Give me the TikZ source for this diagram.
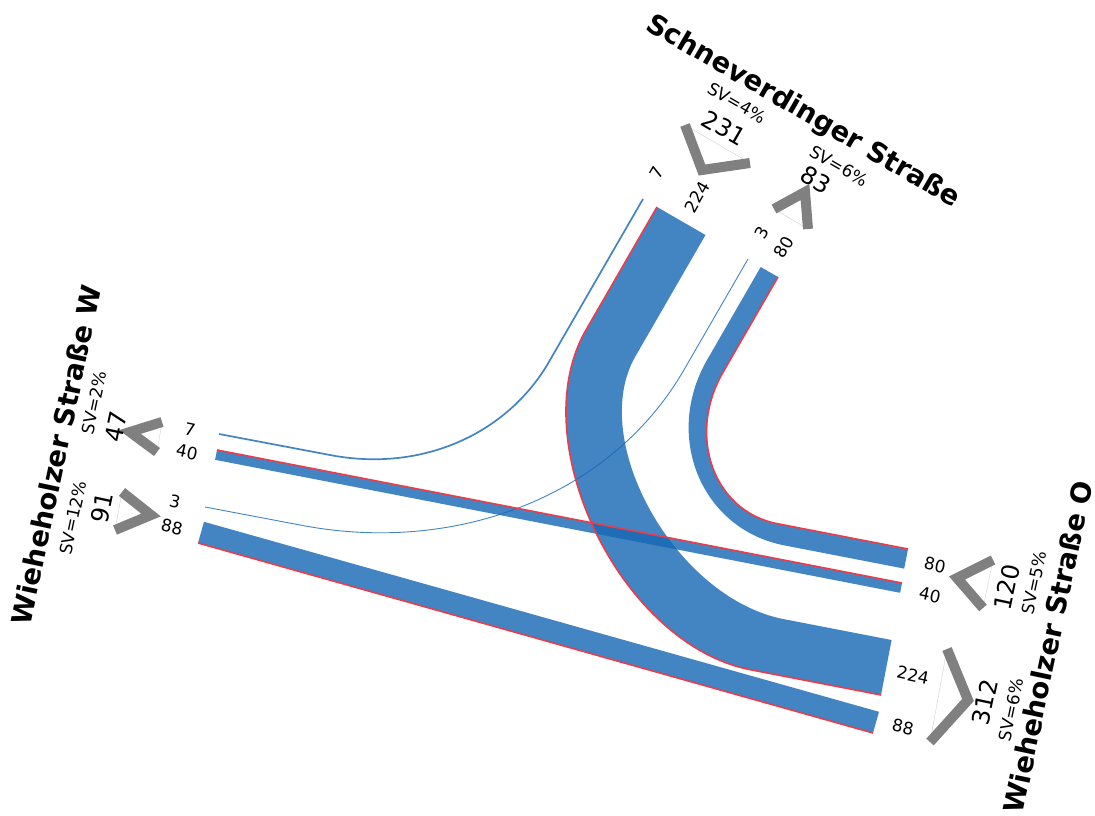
\documentclass[tikz,border=0pt]{standalone}
\usepackage{fontspec}
\setmainfont{DejaVu Sans}
\definecolor{flowblue}{RGB}{21,103,179}
\definecolor{svred}{RGB}{235,60,75}
\definecolor{chevgray}{RGB}{128,128,128}
\tikzset{
  band/.style={fill=flowblue, fill opacity=0.8, draw=none},
  thinflow/.style={draw=flowblue, draw opacity=0.8},
  svline/.style={draw=svred, line width=1.6pt},
  chevron/.style={draw=chevgray, line width=10pt, line join=miter, line cap=butt},
  chevclose/.style={draw=black!22, line width=0.3pt},
  lane/.style={inner sep=0pt, font=\fontsize{17}{17}\selectfont},
  total/.style={inner sep=0pt, font=\fontsize{24}{24}\selectfont},
  svtext/.style={inner sep=0pt, font=\fontsize{17}{17}\selectfont},
  street/.style={inner sep=0pt, font=\fontsize{27.5}{27.5}\selectfont\bfseries},
}
\begin{document}
\begin{tikzpicture}[x=1pt,y=-1pt]
\useasboundingbox (0,0) rectangle (1095,816);
\fill[white] (0,0) rectangle (1095,816);

% ---- flow bands ----
% Schneverdinger -> Wieheholzer O (224)
\fill[band] (657,207) -- (586,330) .. controls (522,440.8) and (620.8,644.6) .. (750.4,669.7) -- (881,695)
  -- (891.6,640) -- (783.6,619.1) .. controls (675.8,598.2) and (586.8,440.5) .. (635.5,356.2) -- (705.5,235) -- cycle;
% Wieheholzer O -> Schneverdinger (80)
\fill[band] (778,277) -- (723,372.3) .. controls (686.4,435.7) and (713.6,511.4) .. (777.4,523.7) -- (908,549)
  -- (904.2,568.6) -- (784.4,545.4) .. controls (701.4,529.3) and (662.9,436.5) .. (707.2,359.7) -- (760.7,267) -- cycle;
% Wieheholzer O -> W (40)
\fill[band] (217,450) -- (902,583) -- (900.1,592.8) -- (215.1,459.8) -- cycle;
% Wieheholzer W -> O (88)
\fill[band] (204,521.8) -- (879,711.8) -- (873,733) -- (198,543) -- cycle;

% thin flows
\draw[thinflow, line width=1.7pt] (219,434) -- (330,455) .. controls (421.7,472.7) and (507.3,434) .. (549,361.8) -- (643,199);
\draw[thinflow, line width=0.9pt] (205,507) -- (300,525) .. controls (458.7,555.7) and (612.4,494) .. (684,369.8) -- (748,259);

% heavy-vehicle edges
\draw[svline] (657,207) -- (586,330) .. controls (522,440.8) and (620.8,644.6) .. (750.4,669.7) -- (881,695);
\draw[svline] (778,277) -- (723,372.3) .. controls (686.4,435.7) and (713.6,511.4) .. (777.4,523.7) -- (908,549);
\draw[svline] (217,450) -- (902,583);
\draw[svline] (198,543) -- (873,733);

% ---- chevrons ----
\draw[chevclose] (685,125) -- (750,163);
\draw[chevron] (685,125) -- (702,170) -- (750,163);
\draw[chevclose] (774,209) -- (808,229);
\draw[chevron] (774,209) -- (805,192) -- (808,229);
\draw[chevclose] (162,422) -- (157,452);
\draw[chevron] (162,422) -- (130,432) -- (157,452);
\draw[chevclose] (122,492) -- (115,530);
\draw[chevron] (122,492) -- (151,515) -- (115,530);
\draw[chevclose] (993,560) -- (983,608);
\draw[chevron] (993,560) -- (957,578) -- (983,608);
\draw[chevclose] (947,649) -- (930,742);
\draw[chevron] (947,649) -- (968,700) -- (930,742);

% ---- Schneverdinger Strasse ----
\node[street, rotate=-30] (sname) at (803,112) {Schneverdinger Straße};
\node[svtext, rotate=-30] (ssvin) at (737,103) {SV=4\%};
\node[total, rotate=-30] (stotin) at (724,128) {231};
\node[svtext, rotate=-30] (ssvout) at (839,166) {SV=6\%};
\node[total, rotate=-30] (stotout) at (816,180) {83};
\node[lane, rotate=60] (sl7) at (657,173) {7};
\node[lane, rotate=60] (sl224) at (697,197) {224};
\node[lane, rotate=60] (sl3) at (762,233) {3};
\node[lane, rotate=60] (sl80) at (784,247) {80};

% ---- Wieheholzer Strasse W ----
\node[street, rotate=78] (wname) at (56,455) {Wieheholzer Straße W};
\node[svtext, rotate=78] (wsvout) at (94,403) {SV=2\%};
\node[total, rotate=78] (wtotout) at (116,427) {47};
\node[total, rotate=78] (wtotin) at (102,508) {91};
\node[svtext, rotate=78] (wsvin) at (73,518) {SV=12\%};
\node[lane, rotate=-12] (wl7) at (190,430) {7};
\node[lane, rotate=-12] (wl40) at (187,452) {40};
\node[lane, rotate=-12] (wl3) at (175,502) {3};
\node[lane, rotate=-12] (wl88) at (172,527) {88};

% ---- Wieheholzer Strasse O ----
\node[street, rotate=78] (oname) at (1048,647) {Wieheholzer Straße O};
\node[total, rotate=78] (ototin) at (1007,587) {120};
\node[svtext, rotate=78] (osvin) at (1034,583) {SV=5\%};
\node[total, rotate=78] (ototout) at (985,702) {312};
\node[svtext, rotate=78] (osvout) at (1011,710) {SV=6\%};
\node[lane, rotate=-12] (ol80) at (935,565) {80};
\node[lane, rotate=-12] (ol40) at (930,595) {40};
\node[lane, rotate=-12] (ol224) at (913,675) {224};
\node[lane, rotate=-12] (ol88) at (903,727) {88};
\end{tikzpicture}
\end{document}
